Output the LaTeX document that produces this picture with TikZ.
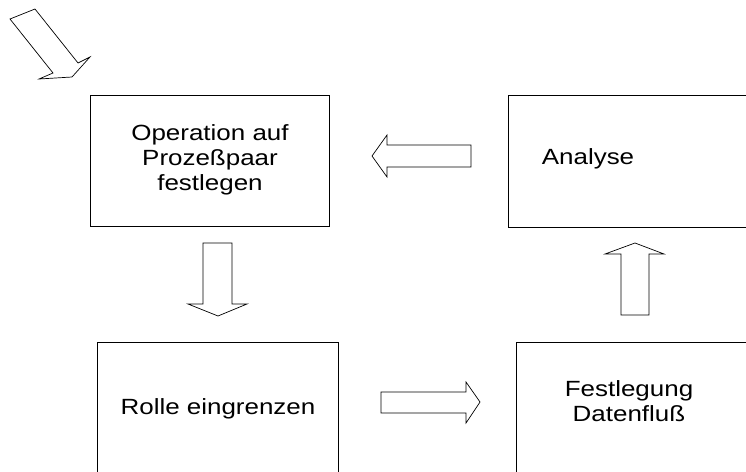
\documentclass[tikz,border=0pt]{standalone}
\usepackage{fontspec}
\newfontfamily\lbl[FakeStretch=1.18]{Liberation Sans}
\begin{document}
\begin{tikzpicture}[x=1pt,y=-1pt,
  box/.style={draw, line width=0.9pt, inner sep=0pt},
  blockarrow/.style={draw, line width=0.7pt, line join=miter, fill=white},
  txt/.style={align=center, font=\lbl\fontsize{22}{25}\selectfont}]
\useasboundingbox (0,0) rectangle (746,471);
\clip (0,0) rectangle (746,471);

% process boxes (the lower ones and the right one run off the page)
\draw[box] (90,95) rectangle (329,226);
\draw[box] (508,95) rectangle (780,227);
\draw[box] (97,342) rectangle (338,500);
\draw[box] (516,342) rectangle (780,500);

\node[txt] (op) at (210,160) {Operation auf\\Prozeßpaar\\festlegen};
\node[txt] (an) at (588,159) {Analyse};
\node[txt] (ro) at (218,409) {Rolle eingrenzen};
\node[txt] (fe) at (629,401) {Festlegung\\Datenfluß};

% entry arrow
\draw[blockarrow] (10,19) -- (35,9) -- (78,63) -- (90,57) -- (72,77)
  -- (39,79) -- (53,73) -- cycle;
% Analyse -> Operation
\draw[blockarrow] (471,145) -- (387,145) -- (387,135) -- (372,156)
  -- (387,177) -- (387,167) -- (471,167) -- cycle;
% Operation -> Rolle
\draw[blockarrow] (203,243) -- (232,243) -- (232,304) -- (247,304)
  -- (218,316) -- (188,304) -- (203,304) -- cycle;
% Rolle -> Festlegung
\draw[blockarrow] (381,392) -- (466,392) -- (466,382) -- (480,402)
  -- (466,423) -- (466,413) -- (381,413) -- cycle;
% Festlegung -> Analyse
\draw[blockarrow] (621,315) -- (621,254) -- (605,254) -- (635,243)
  -- (664,254) -- (649,254) -- (649,315) -- cycle;
\end{tikzpicture}
\end{document}
